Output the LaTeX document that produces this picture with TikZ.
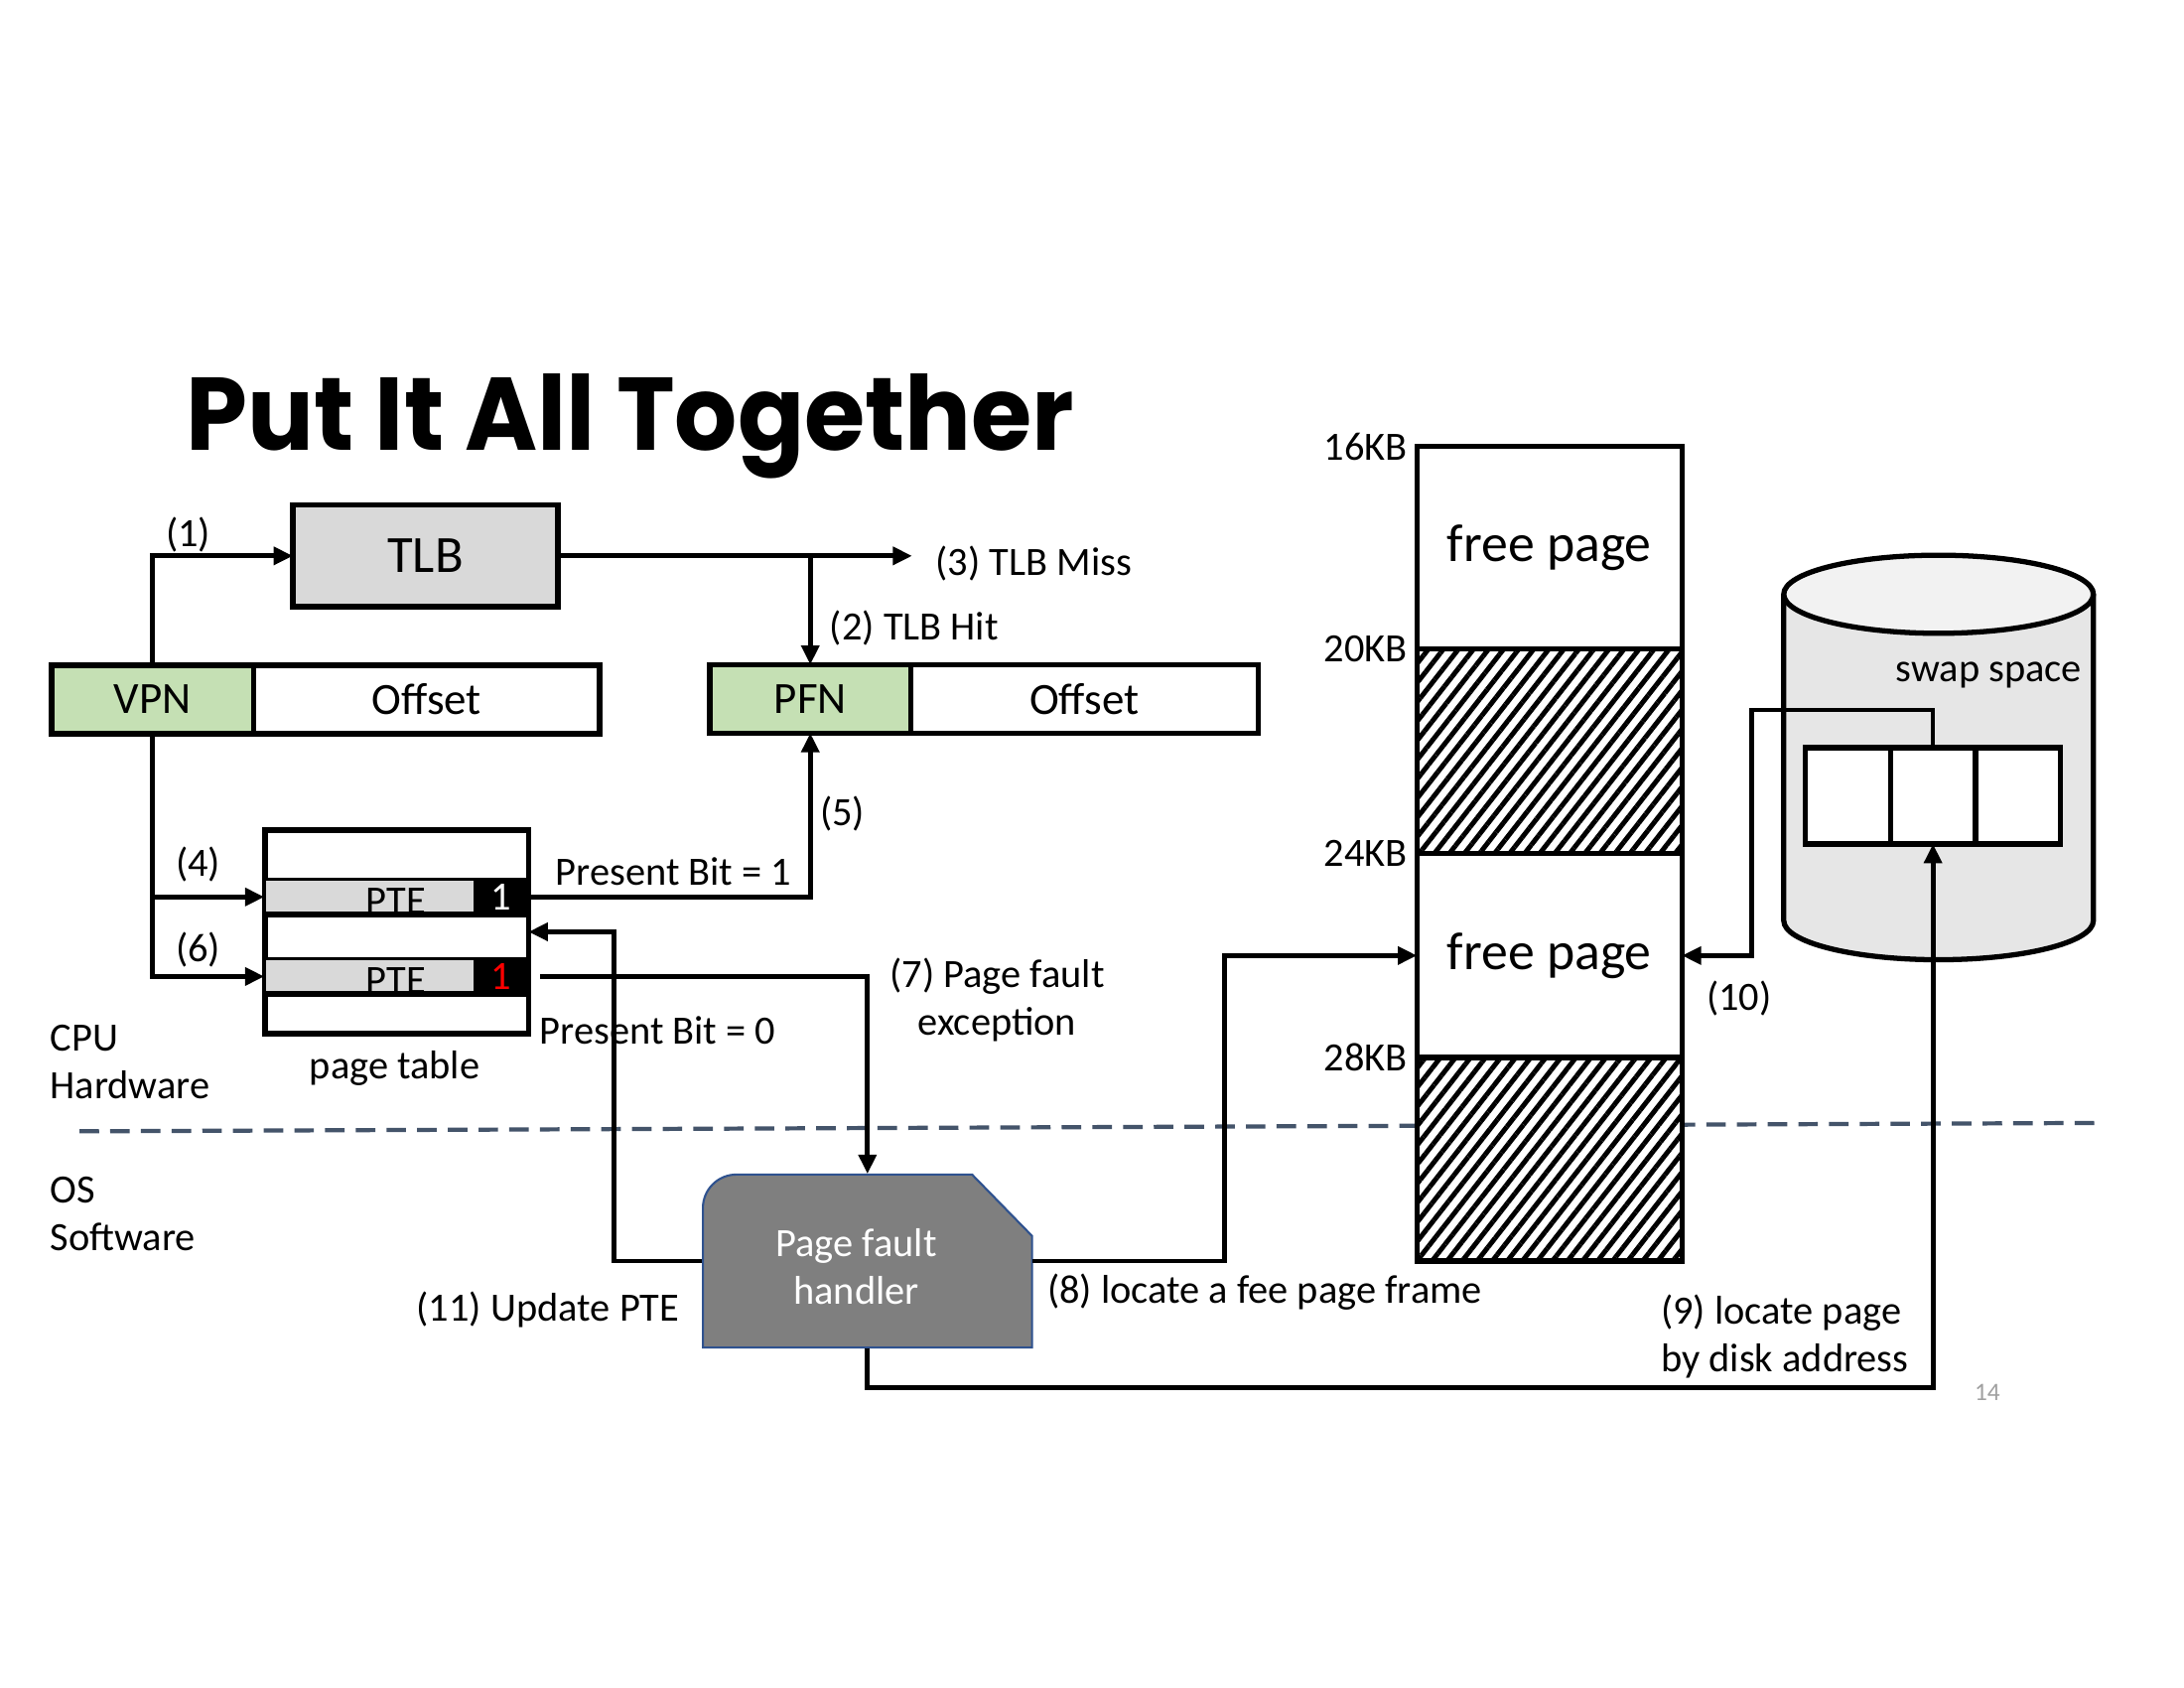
\documentclass[tikz,border=0pt]{standalone}
\usepackage{fontspec}
\usepackage{graphicx}
\setmainfont{Carlito}
\newfontfamily\titlefont{Poppins}
\usetikzlibrary{positioning, calc, arrows.meta, patterns.meta}

\newcommand{\pxw}{0.01405cm}

\definecolor{tlbgray}{HTML}{D9D9D9}
\definecolor{vpngreen}{HTML}{C5E0B4}
\definecolor{handgray}{HTML}{7F7F7F}
\definecolor{handblue}{HTML}{2F528F}
\definecolor{diskgray}{HTML}{E6E6E6}
\definecolor{disktop}{HTML}{F2F2F2}
\definecolor{osline}{HTML}{44546A}
\definecolor{pagegray}{HTML}{A0A0A0}

\tikzset{
  sz/.style 2 args={minimum width=#1*\pxw, minimum height=#2*\pxw},
  box/.style={draw, line width=1.5pt, inner sep=0pt, outer sep=0pt},
  lbl/.style={inner sep=1pt, font=\fontsize{11.5}{13.7}\selectfont},
  arr/.style={line width=1.4pt, -{Triangle[length=5.5pt, width=5pt]}},
  hatch/.style={preaction={fill=white}, pattern={Lines[angle=52, distance=3.4pt, line width=1.4pt]}},
}

\begin{document}
\begin{tikzpicture}[x=\pxw, y=-\pxw]
  \fill[white] (0,0) rectangle (1566,1210);
  \useasboundingbox (0,0) rectangle (1566,1210);

  % Title
  \node[anchor=base west, inner sep=0pt] (title) at (133,323)
    {\resizebox{8.95cm}{0.77cm}{\titlefont\bfseries Put It All Together}};

  % Hardware / software border
  \draw[osline, line width=1.2pt, dash pattern=on 5.6pt off 3.2pt] (57,811) -- (1505,805);

  % TLB and addresses
  \node[box, fill=tlbgray, sz={190}{73}, font=\fontsize{15}{18}\selectfont] (tlb) at (305,398.5) {TLB};
  \node[box, fill=vpngreen, sz={145}{49}, font=\fontsize{12.8}{15}\selectfont] (vpn) at (109.5,501.5) {VPN};
  \node[box, sz={248}{49}, right=0pt of vpn, font=\fontsize{12.8}{15}\selectfont] (voff) {Offset};
  \node[box, fill=vpngreen, sz={144}{49}, font=\fontsize{12.8}{15}\selectfont] (pfn) at (581,501) {PFN};
  \node[box, sz={249}{49}, right=0pt of pfn, font=\fontsize{12.8}{15}\selectfont] (poff) {Offset};

  % Page table
  \node[box, sz={189}{146}] (ptab) at (284.5,668) {};
  \node[fill=black, inner sep=0pt, sz={189}{28}] (pte1) at (284.5,643) {};
  \fill[tlbgray] ($(pte1.north west)+(1,3)$) rectangle ($(pte1.south east)+(-40,-4)$);
  \node[lbl] (pte1txt) at (284,646) {PTE};
  \fill[black] ($(pte1.south west)+(0,-4)$) rectangle (pte1.south east);
  \node[lbl, text=white] (bit1) at (359,643) {1};
  \node[fill=black, inner sep=0pt, sz={189}{28}] (pte2) at (284.5,700) {};
  \fill[tlbgray] ($(pte2.north west)+(1,3)$) rectangle ($(pte2.south east)+(-40,-4)$);
  \node[lbl] (pte2txt) at (284,703) {PTE};
  \fill[black] ($(pte2.south west)+(0,-4)$) rectangle (pte2.south east);
  \node[lbl, text=red] (bit2) at (359,700) {1};
  \node[lbl] (ptablbl) at (283,766) {page table};

  % Physical memory
  \node[box, sz={190}{145}, font=\fontsize{15.3}{18}\selectfont] (fp1) at (1111,392.5) {free page};
  \node[box, hatch, sz={190}{147}, below=0pt of fp1] (used1) {};
  \node[box, sz={190}{146}, below=0pt of used1, font=\fontsize{15.3}{18}\selectfont] (fp2) {free page};
  \node[box, hatch, sz={190}{146}, below=0pt of fp2] (used2) {};
  \node[lbl, left=1.5pt of fp1.north west] (kb16) {16KB};
  \node[lbl, left=1.5pt of used1.north west] (kb20) {20KB};
  \node[lbl, left=1.5pt of fp2.north west] (kb24) {24KB};
  \node[lbl, left=1.5pt of used2.north west] (kb28) {28KB};

  % Swap space
  \draw[line width=1.5pt, fill=diskgray] (1279,426) -- (1279,660)
    arc[start angle=180, end angle=0, x radius=111, y radius=28] -- (1501,426);
  \draw[line width=1.5pt, fill=disktop] (1390,426) ellipse[x radius=111, y radius=28];
  \node[lbl] (swaplbl) at (1426,484) {swap space};
  \node[box, fill=white, sz={61}{69}] (blk1) at (1325,570.5) {};
  \node[box, fill=white, sz={61}{69}, right=0pt of blk1] (blk2) {};
  \node[box, fill=white, sz={61}{69}, right=0pt of blk2] (blk3) {};

  % Page fault handler
  \filldraw[fill=handgray, draw=handblue, line width=0.6pt] (504,866)
    arc[start angle=180, end angle=270, radius=24] -- (697,842) -- (740,886)
    -- (740,966) -- (504,966) -- cycle;
  \node[inner sep=0pt, sz={236}{124}] (pfh) at (622,904) {};
  \node[lbl, text=white, align=center] (pfhtxt) at (614,908) {Page fault\\handler};

  % Labels
  \node[lbl] (l1) at (135,383) {(1)};
  \node[lbl, anchor=west] (miss) at (668,404) {(3) TLB Miss};
  \node[lbl, anchor=west] (hit) at (592,450) {(2) TLB Hit};
  \node[lbl] (l4) at (142,620) {(4)};
  \node[lbl] (l6) at (142,681) {(6)};
  \node[lbl] (l5) at (604,583) {(5)};
  \node[lbl] (pb1) at (483,625) {Present Bit = 1};
  \node[lbl, anchor=west] (pb0) at (384,739) {Present Bit = 0};
  \node[lbl, align=center] (l7) at (715,717) {(7) Page fault\\exception};
  \node[lbl, anchor=west, align=left] (cpu) at (33,761) {CPU\\Hardware};
  \node[lbl, anchor=west, align=left] (os) at (33,870) {OS\\Software};
  \node[lbl, anchor=east] (l11) at (490,939) {(11) Update PTE};
  \node[lbl, anchor=west] (l8) at (748,926) {(8) locate a fee page frame};
  \node[lbl, anchor=west, align=left] (l9) at (1188,958) {(9) locate page\\by disk address};
  \node[lbl] (l10) at (1247,716) {(10)};
  \node[inner sep=1pt, text=pagegray, font=\fontsize{7.2}{8}\selectfont] (pagenum) at (1425,998) {14};

  % Connectors
  \draw[arr] (vpn.north) |- (tlb.west);
  \draw[arr] (tlb.east) -- ($(tlb.east -| miss.west)+(-14,0)$);
  \draw[arr] (tlb.east -| pfn.north) -- (pfn.north);
  \draw[arr] (vpn.south) |- (pte2.west);
  \draw[arr] (vpn.south |- pte1.west) -- (pte1.west);
  \draw[arr] (pte1.east) -| (pfn.south);
  \draw[arr] ($(pte2.east)+(8,0)$) -| (pfh.north);
  \draw[arr] (pfh.west) -- ++(-63,0) |- (ptab.east);
  \draw[arr] (pfh.east) -| ($(pfh.east)!.5!(fp2.west)$) |- (fp2.west);
  \draw[arr] (pfh.south) -- ++(0,28) -| (blk2.south);
  \draw[arr, line width=1.3pt] (blk2.north) -- ++(0,-27) -| ($(fp2.east)+(50,0)$) -- (fp2.east);
\end{tikzpicture}
\end{document}
